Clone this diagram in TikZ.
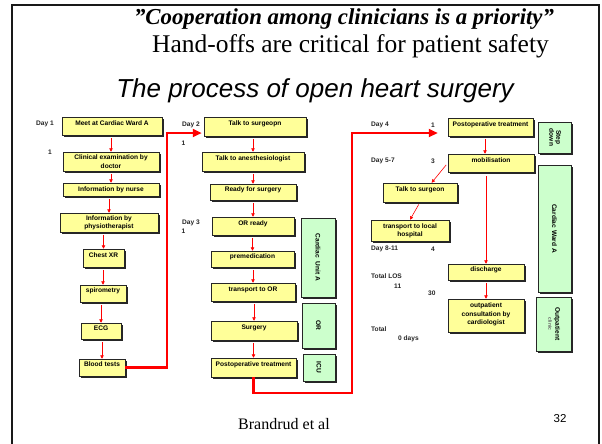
\documentclass[tikz,border=0pt]{standalone}
\usepackage{fontspec}
\setmainfont{Liberation Serif}
\newfontfamily\arialf{Liberation Sans}
\usetikzlibrary{arrows.meta,shadows,calc}
\definecolor{yfill}{HTML}{FFFF99}
\definecolor{gfill}{HTML}{CCFFCC}
\tikzset{
  boxfont/.style={font=\arialf\bfseries\fontsize{6.6}{8.4}\selectfont},
  ybox/.style={boxfont, draw=black!85, line width=0.5pt, fill=yfill, inner sep=0pt, align=center,
    drop shadow={shadow xshift=1.6pt, shadow yshift=-1.6pt, opacity=1, fill=black!85}},
  one/.style={text height=4.8pt, text depth=6.1pt},
  gbox/.style={boxfont, draw=black!85, line width=0.5pt, fill=gfill, inner sep=0pt, align=center,
    drop shadow={shadow xshift=1.6pt, shadow yshift=-1.6pt, opacity=1, fill=black!85}},
  lbl/.style={boxfont, anchor=west, inner sep=0pt, text=black!85},
  sarr/.style={draw=red, line width=0.6pt, -{Triangle[length=3.4pt,width=3.4pt]}, shorten <=2.5pt},
  tarr/.style={draw=red, line width=2.4pt, -{Triangle[length=9pt,width=8pt]}},
}
\begin{document}
\begin{tikzpicture}[x=1pt,y=-1pt]
\useasboundingbox (0,0) rectangle (602,444);
\fill[white] (0,0) rectangle (602,444);
% frame
\draw[line width=2pt, black!90] (12,444) -- (12,5) -- (599,5) -- (599,444);

% titles
\node[font=\bfseries\itshape\fontsize{22.8}{26}\selectfont, inner sep=0pt] (t1) at (344,19) {”Cooperation among clinicians is a priority”};
\node[font=\fontsize{25.5}{28}\selectfont, inner sep=0pt] (t2) at (350.5,46) {Hand-offs are critical for patient safety};
\node[font=\arialf\itshape\fontsize{26}{30}\selectfont, inner sep=0pt] (t3) at (315,91) {The process of open heart surgery};
\node[font=\fontsize{16}{18}\selectfont, inner sep=0pt] (br) at (284,424) {Brandrud et al};
\node[font=\arialf\fontsize{11.5}{13}\selectfont, inner sep=0pt] (pn) at (560,419) {32};

% column 1
\node[ybox, one, minimum width=100pt, minimum height=18pt] (meet) at (112,126) {Meet at Cardiac Ward A};
\node[ybox, minimum width=96pt, minimum height=19pt] (clin) at (111,161.5) {Clinical examination by\\doctor};
\node[ybox, minimum width=96pt, minimum height=13pt] (nurse) at (111,189.5) {Information by nurse};
\node[ybox, minimum width=98pt, minimum height=19pt] (physio) at (109,222.5) {Information by\\physiotherapist};
\node[ybox, one, minimum width=41pt, minimum height=18pt] (chest) at (103.5,258) {Chest XR};
\node[ybox, one, minimum width=46pt, minimum height=17pt] (spiro) at (103,293.5) {spirometry};
\node[ybox, one, minimum width=40pt, minimum height=16pt] (ecg) at (101,331) {ECG};
\node[ybox, one, minimum width=46pt, minimum height=17pt] (blood) at (102,367.5) {Blood tests};

% column 2
\node[ybox, one, minimum width=102pt, minimum height=19pt] (tsurg) at (255,126.5) {Talk to surgeopn};
\node[ybox, one, minimum width=102pt, minimum height=19pt] (anest) at (253,161.5) {Talk to anesthesiologist};
\node[ybox, one, minimum width=86pt, minimum height=16pt] (ready) at (253,192) {Ready for surgery};
\node[ybox, one, minimum width=82pt, minimum height=18pt] (orready) at (253,226) {OR ready};
\node[ybox, one, minimum width=83pt, minimum height=16pt] (premed) at (252.5,259) {premedication};
\node[ybox, one, minimum width=84pt, minimum height=18pt] (transp) at (253,292) {transport to OR};
\node[ybox, one, minimum width=86pt, minimum height=19pt] (surgery) at (254,330.5) {Surgery};
\node[ybox, one, minimum width=85pt, minimum height=19pt] (postop) at (253.5,367.5) {Postoperative treatment};

\node[gbox, minimum width=34pt, minimum height=79pt] (cua) at (318,257.5) {\rotatebox{-90}{Cardiac\ \ Unit A}};
\node[gbox, minimum width=33pt, minimum height=45pt] (orbox) at (318.5,325.5) {\rotatebox{-90}{OR}};
\node[gbox, minimum width=32pt, minimum height=27pt] (icu) at (319,367.5) {\rotatebox{-90}{ICU}};

% column 3
\node[ybox, one, minimum width=85pt, minimum height=18pt] (postop4) at (490.5,127) {Postoperative treatment};
\node[ybox, one, minimum width=86pt, minimum height=18pt] (mobil) at (491,163) {mobilisation};
\node[ybox, one, minimum width=74pt, minimum height=19pt] (tsurg2) at (420,192.5) {Talk to surgeon};
\node[ybox, minimum width=78pt, minimum height=21pt] (tlocal) at (410,230.5) {transport to local\\hospital};
\node[ybox, one, minimum width=76pt, minimum height=16pt] (disch) at (486,272) {discharge};
\node[ybox, minimum width=76pt, minimum height=33pt] (outp) at (486,315.5) {outpatient\\consultation by\\cardiologist\rule[-3pt]{0pt}{3pt}};

\node[gbox, minimum width=33pt, minimum height=31pt] (stepd) at (554.5,137.5) {\rotatebox{-90}{\begin{tabular}{@{}c@{}}Step\\[-1.5pt]down\end{tabular}}};
\node[gbox, minimum width=33pt, minimum height=127pt] (cwa) at (554.5,228.5) {\rotatebox{-90}{Cardiac Ward A}};
\node[gbox, minimum width=35pt, minimum height=54pt] (outc) at (553.5,324) {\rotatebox{-90}{\begin{tabular}{@{}c@{}}Outpatient\\[-1.5pt]{\fontsize{5}{6}\selectfont\color{black!60}clinic}\end{tabular}}};

% labels
\node[lbl] (d1) at (36,124) {Day 1};
\node[lbl] (d1n) at (48,152) {1};
\node[lbl] (d2) at (182,125) {Day 2};
\node[lbl] (d2n) at (181.5,143) {1};
\node[lbl] (d3) at (182,223) {Day 3};
\node[lbl] (d3n) at (181.5,231) {1};
\node[lbl] (d4) at (371,125) {Day 4};
\node[lbl] (d4n) at (431,125) {1};
\node[lbl] (d5) at (371,161) {Day 5-7};
\node[lbl] (d5n) at (431,161) {3};
\node[lbl] (d8) at (371,249) {Day 8-11};
\node[lbl] (d8n) at (431,249) {4};
\node[lbl] (tl) at (371,276) {Total LOS};
\node[lbl] (tln) at (394,286) {11};
\node[lbl] (t30) at (428,293) {30};
\node[lbl] (tt) at (371,329) {Total};
\node[lbl] (td) at (398,339) {0 days};

% small arrows column 1
\draw[sarr] (meet.south -| clin.north) -- (clin.north);
\draw[sarr] (clin.south -| nurse.north) -- (nurse.north);
\draw[sarr] (nurse.south -| physio.north) -- (physio.north);
\draw[sarr] (physio.south -| chest.north) -- (chest.north);
\draw[sarr] (chest.south -| spiro.north) -- (spiro.north);
\draw[sarr] (spiro.south -| ecg.north) -- (ecg.north);
\draw[sarr] (ecg.south -| blood.north) -- (blood.north);
% column 2
\draw[sarr] (tsurg.south -| anest.north) -- (anest.north);
\draw[sarr] (anest.south -| ready.north) -- (ready.north);
\draw[sarr] (ready.south -| orready.north) -- (orready.north);
\draw[sarr] (orready.south -| premed.north) -- (premed.north);
\draw[sarr] (premed.south -| transp.north) -- (transp.north);
\draw[sarr] (transp.south -| surgery.north) -- (surgery.north);
\draw[sarr] (surgery.south -| postop.north) -- (postop.north);
% column 3
\coordinate (a4) at ([xshift=-5.5pt]postop4.south);
\draw[sarr] (a4) -- (a4 |- mobil.north);
\draw[sarr, shorten <=4pt] (mobil.south -| disch.north) -- (disch.north);
\draw[sarr] (disch.south -| outp.north) -- (outp.north);
\draw[sarr] (mobil.west) -- (tsurg2.40);
\draw[sarr] (tsurg2.south) -- (tlocal.north);

% thick hand-off connectors
\coordinate (c1) at (167,250);
\draw[tarr, shorten >=2pt] (blood.east) -| (c1) |- ([yshift=-6.5pt]tsurg.west);
\coordinate (c2) at (352,393);
\draw[tarr, shorten >=10pt] (postop.south) |- (c2) |- ([yshift=-6pt]postop4.west);
\end{tikzpicture}
\end{document}
